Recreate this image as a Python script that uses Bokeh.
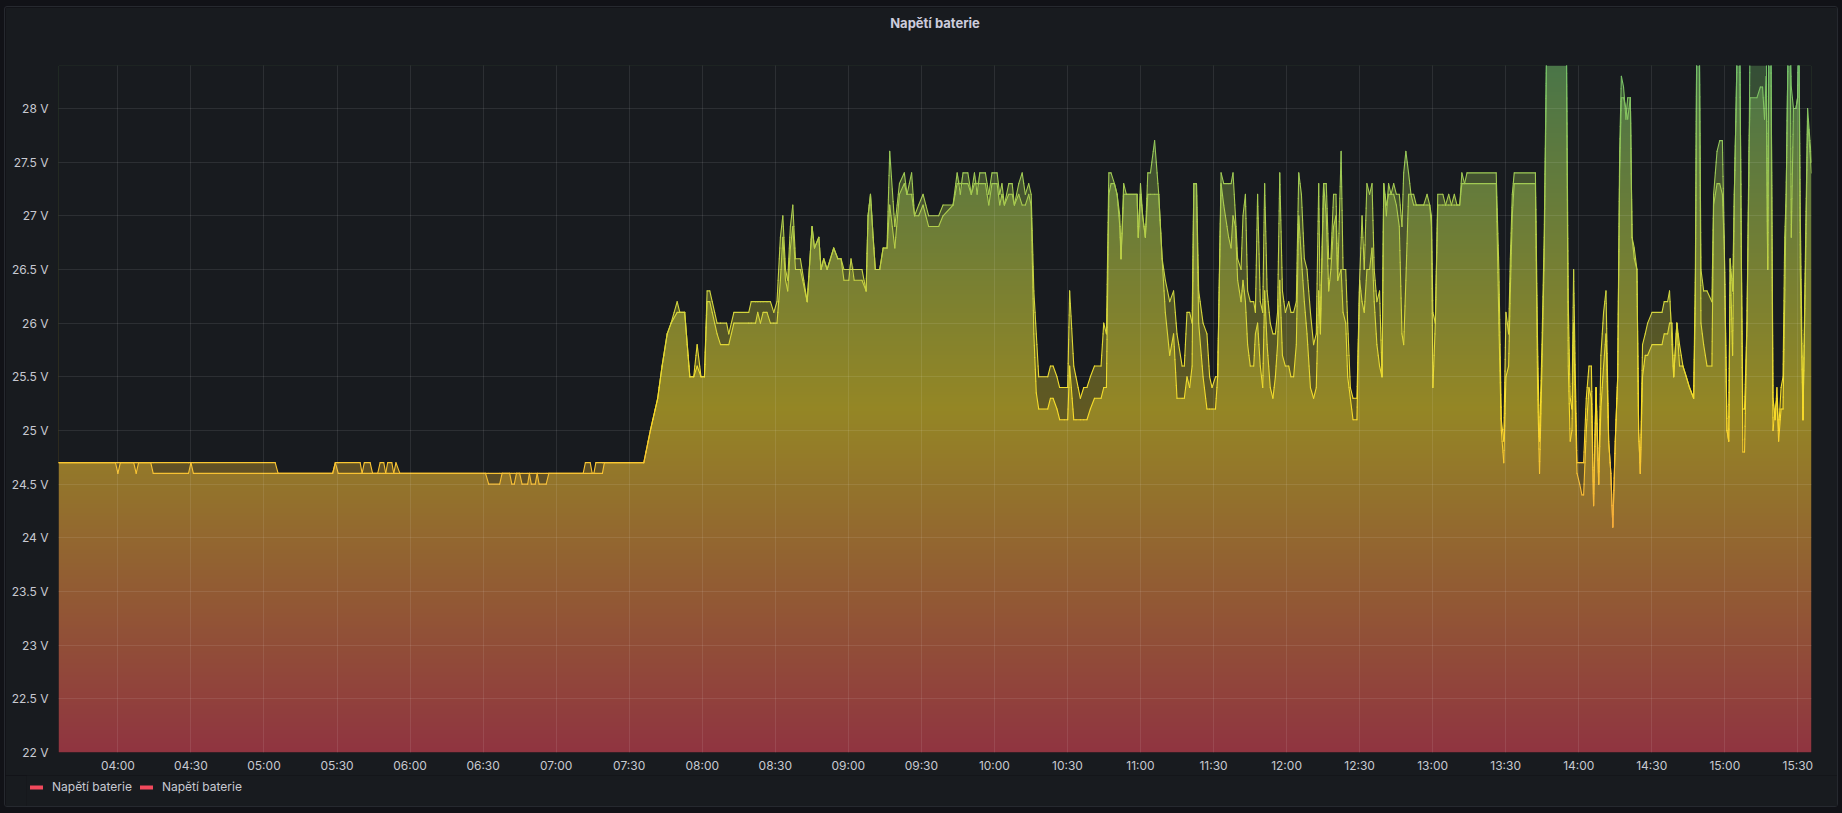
import math
import numpy as np
from bokeh.plotting import figure
from bokeh.layouts import column
from bokeh.models import Range1d, FixedTicker, Legend, LegendItem, Title
from bokeh.embed import file_html
from bokeh.resources import INLINE

# ---------------- data (minutes since midnight, volts) ----------------
TITLE = "Napětí baterie"
SERIES_NAMES = ["Napětí baterie", "Napětí baterie"]

T = [
    215.6, 239.0, 240.0, 241.0, 246.5, 247.5, 248.5, 253.5,
    254.5, 269.0, 270.0, 271.0, 304.6, 305.8, 328.2, 329.3,
    330.5, 339.5, 340.3, 341.2, 343.6, 344.6, 346.7, 347.7,
    349.2, 350.0, 350.8, 352.5, 353.3, 354.2, 355.8, 391.0,
    392.3, 396.8, 397.8, 400.9, 401.8, 402.8, 403.7, 405.0,
    406.0, 408.3, 409.0, 409.8, 411.4, 412.2, 413.0, 415.9,
    417.0, 431.1, 432.0, 434.0, 434.8, 435.5, 436.3, 439.0,
    439.8, 456.0, 458.7, 461.7, 463.5, 465.6, 467.2, 469.7,
    470.8, 472.8, 474.9, 476.5, 477.9, 479.5, 480.9, 482.0,
    483.1, 486.1, 487.5, 490.0, 490.9, 493.0, 499.1, 500.1,
    501.9, 502.8, 503.9, 505.0, 506.6, 508.0, 509.4, 510.7,
    512.1, 513.1, 514.2, 515.1, 516.2, 517.2, 518.3, 520.3,
    523.1, 525.1, 526.1, 527.9, 528.8, 529.9, 531.3, 534.0,
    535.7, 537.0, 538.2, 540.2, 541.1, 542.4, 545.6, 547.3,
    548.1, 549.1, 550.2, 551.1, 552.9, 554.3, 555.9, 557.0,
    559.1, 561.0, 563.0, 564.1, 566.0, 567.2, 568.9, 570.7,
    573.0, 577.1, 578.9, 583.0, 584.7, 586.0, 587.1, 589.1,
    590.5, 591.8, 592.9, 594.0, 596.3, 597.7, 599.0, 601.1,
    602.2, 603.1, 604.1, 605.9, 607.3, 608.2, 610.0, 611.4,
    612.7, 614.1, 615.1, 616.2, 617.2, 618.2, 621.9, 623.0,
    624.1, 625.7, 626.8, 628.7, 630.1, 630.9, 632.6, 633.5,
    635.3, 636.7, 638.0, 639.4, 641.1, 643.8, 644.9, 646.0,
    647.0, 647.9, 649.3, 650.4, 651.5, 652.0, 653.1, 654.2,
    658.6, 659.1, 660.0, 660.9, 662.0, 663.0, 664.1, 665.8,
    667.5, 668.9, 670.2, 672.0, 673.6, 675.0, 677.1, 678.0,
    679.1, 680.2, 681.2, 681.9, 683.0, 683.9, 685.7, 687.3,
    688.4, 689.4, 690.8, 691.7, 693.1, 694.2, 696.2, 697.2,
    698.0, 699.0, 699.9, 701.3, 702.1, 703.1, 704.0, 705.1,
    706.5, 707.2, 708.1, 709.2, 710.2, 711.0, 712.0, 713.3,
    714.4, 715.4, 716.3, 717.2, 718.3, 719.5, 720.9, 721.8,
    722.9, 724.0, 725.0, 726.1, 727.3, 728.4, 729.8, 731.1,
    732.2, 733.2, 733.9, 735.2, 736.3, 737.3, 738.2, 739.3,
    740.3, 741.0, 742.4, 743.2, 744.3, 745.1, 746.2, 747.3,
    748.9, 750.0, 751.0, 751.9, 753.0, 754.1, 755.1, 756.0,
    757.1, 758.2, 759.2, 759.9, 761.0, 761.9, 762.9, 764.0,
    765.1, 766.3, 767.4, 768.1, 769.0, 770.1, 771.1, 772.2,
    773.3, 776.3, 777.7, 778.8, 779.5, 780.1, 781.1, 782.1,
    784.2, 785.3, 786.6, 787.7, 788.9, 790.0, 791.1, 792.0,
    793.1, 794.1, 806.1, 807.2, 808.2, 809.2, 810.1, 811.2,
    811.9, 812.7, 813.5, 822.2, 823.1, 823.9, 824.9, 825.8,
    826.9, 834.9, 835.7, 836.5, 837.2, 837.9, 838.6, 839.3,
    840.4, 841.3, 842.0, 843.1, 844.2, 845.2, 846.1, 847.1,
    848.2, 849.1, 850.2, 851.2, 852.3, 853.2, 854.0, 855.0,
    856.0, 856.8, 857.5, 858.4, 859.4, 860.1, 861.2, 861.9,
    862.8, 863.9, 864.6, 865.3, 866.2, 867.3, 868.3, 870.1,
    874.2, 875.1, 876.5, 877.3, 878.3, 879.0, 880.3, 881.4,
    882.8, 884.2, 885.5, 887.2, 887.9, 888.5, 889.5, 890.2,
    891.3, 892.7, 894.7, 895.4, 896.8, 897.9, 899.0, 899.8,
    900.9, 901.6, 902.2, 903.2, 903.9, 904.7, 905.2, 906.1,
    906.8, 907.4, 908.1, 909.1, 909.9, 910.4, 913.2, 914.6,
    915.5, 916.3, 917.0, 917.6, 918.1, 918.9, 919.8, 920.7,
    921.4, 922.1, 923.1, 923.9, 924.6, 925.2, 926.1, 926.8,
    927.3, 928.2, 929.2, 929.9, 930.4, 931.0, 932.1, 933.2,
    934.0, 935.6,
]

A = [
    24.7, 24.7, 24.7, 24.7, 24.7, 24.7, 24.7, 24.7,
    24.7, 24.7, 24.7, 24.7, 24.7, 24.6, 24.6, 24.7,
    24.7, 24.7, 24.6, 24.7, 24.7, 24.6, 24.6, 24.7,
    24.7, 24.6, 24.7, 24.7, 24.6, 24.7, 24.6, 24.6,
    24.6, 24.6, 24.6, 24.6, 24.6, 24.6, 24.6, 24.6,
    24.6, 24.6, 24.6, 24.6, 24.6, 24.6, 24.6, 24.6,
    24.6, 24.6, 24.7, 24.7, 24.6, 24.6, 24.7, 24.7,
    24.7, 24.7, 25.0, 25.3, 25.6, 25.9, 26.0, 26.2,
    26.1, 26.1, 25.5, 25.5, 25.8, 25.5, 25.5, 26.3,
    26.3, 26.0, 26.0, 26.0, 25.9, 26.1, 26.1, 26.2,
    26.2, 26.2, 26.2, 26.2, 26.2, 26.2, 26.1, 26.2,
    26.8, 27.0, 26.5, 26.4, 26.9, 27.1, 26.6, 26.6,
    26.2, 26.9, 26.7, 26.8, 26.5, 26.6, 26.5, 26.7,
    26.6, 26.6, 26.5, 26.5, 26.5, 26.5, 26.5, 26.3,
    27.0, 27.2, 26.8, 26.5, 26.5, 26.7, 26.7, 27.6,
    26.9, 27.3, 27.4, 27.2, 27.4, 27.0, 27.1, 27.2,
    27.0, 27.0, 27.1, 27.1, 27.4, 27.2, 27.4, 27.4,
    27.2, 27.4, 27.2, 27.4, 27.4, 27.2, 27.4, 27.4,
    27.2, 27.3, 27.1, 27.3, 27.3, 27.1, 27.3, 27.4,
    27.2, 27.3, 27.2, 26.3, 25.9, 25.5, 25.5, 25.6,
    25.6, 25.5, 25.4, 25.4, 25.4, 26.3, 25.6, 25.5,
    25.3, 25.4, 25.4, 25.5, 25.6, 25.6, 26.0, 25.9,
    27.4, 27.4, 27.3, 27.2, 27.0, 26.6, 27.3, 27.2,
    27.2, 26.8, 27.3, 27.0, 26.8, 27.4, 27.4, 27.7,
    27.2, 26.6, 26.4, 26.2, 26.3, 25.9, 25.6, 25.6,
    26.1, 26.1, 26.0, 27.3, 27.3, 26.3, 26.0, 25.9,
    25.5, 25.4, 25.5, 25.5, 27.4, 27.3, 27.3, 27.3,
    27.4, 27.0, 26.6, 26.5, 27.0, 27.2, 26.3, 26.2,
    26.2, 26.1, 27.2, 26.2, 26.1, 27.3, 26.3, 26.0,
    25.9, 25.9, 26.1, 27.4, 26.3, 26.1, 26.2, 26.1,
    26.1, 26.2, 27.4, 27.2, 26.6, 26.5, 26.1, 25.8,
    25.9, 27.3, 26.0, 27.3, 27.3, 26.6, 26.6, 27.2,
    27.2, 26.4, 27.6, 26.5, 26.5, 26.0, 25.4, 25.3,
    25.3, 26.4, 27.0, 26.5, 27.3, 27.2, 27.3, 26.5,
    26.2, 26.3, 25.5, 27.3, 27.0, 27.3, 27.2, 27.3,
    27.2, 27.2, 26.9, 27.4, 27.6, 27.4, 27.2, 27.2,
    27.1, 27.1, 27.2, 27.1, 27.0, 26.1, 26.0, 27.2,
    27.2, 27.1, 27.2, 27.1, 27.2, 27.1, 27.1, 27.4,
    27.3, 27.4, 27.4, 26.5, 25.1, 24.9, 26.1, 25.9,
    26.6, 27.2, 27.4, 27.4, 25.8, 24.9, 25.8, 26.8,
    28.8, 28.8, 26.2, 25.3, 25.2, 26.5, 25.5, 24.7,
    24.7, 24.7, 24.7, 25.3, 25.6, 25.6, 24.3, 25.4,
    24.5, 25.7, 26.1, 26.3, 24.9, 24.6, 24.1, 24.9,
    25.5, 27.6, 28.3, 28.2, 27.9, 28.1, 28.1, 26.8,
    26.7, 26.5, 25.0, 24.6, 25.8, 25.9, 26.0, 26.1,
    26.1, 26.2, 26.2, 26.3, 25.8, 25.5, 26.0, 25.8,
    25.6, 25.5, 25.4, 25.3, 26.5, 28.8, 28.8, 26.5,
    26.3, 26.3, 26.2, 27.2, 27.6, 27.7, 27.7, 26.7,
    25.0, 24.9, 26.6, 26.3, 27.2, 28.1, 28.8, 28.8,
    26.6, 25.2, 25.2, 26.0, 27.4, 28.8, 28.8, 28.8,
    28.8, 28.6, 28.8, 26.5, 28.8, 28.8, 25.3, 25.1,
    25.4, 25.0, 25.4, 25.5, 26.8, 27.2, 28.8, 28.8,
    28.2, 28.0, 28.0, 28.1, 28.8, 27.0, 25.1, 26.8,
    28.0, 27.5,
]

B = [
    24.7, 24.7, 24.6, 24.7, 24.7, 24.6, 24.7, 24.7,
    24.6, 24.6, 24.7, 24.6, 24.6, 24.6, 24.6, 24.7,
    24.6, 24.6, 24.6, 24.6, 24.6, 24.6, 24.6, 24.6,
    24.6, 24.6, 24.6, 24.6, 24.6, 24.6, 24.6, 24.6,
    24.5, 24.5, 24.6, 24.6, 24.5, 24.5, 24.6, 24.6,
    24.5, 24.5, 24.6, 24.5, 24.5, 24.6, 24.5, 24.5,
    24.6, 24.6, 24.6, 24.6, 24.6, 24.6, 24.6, 24.6,
    24.7, 24.7, 25.0, 25.3, 25.6, 25.9, 26.0, 26.1,
    26.1, 26.1, 25.5, 25.5, 25.6, 25.5, 25.5, 26.2,
    26.2, 25.9, 25.8, 25.8, 25.8, 26.0, 26.0, 26.0,
    26.0, 26.1, 26.0, 26.1, 26.1, 26.0, 26.0, 26.0,
    26.4, 26.8, 26.4, 26.3, 26.7, 26.9, 26.5, 26.5,
    26.2, 26.9, 26.7, 26.8, 26.5, 26.6, 26.5, 26.7,
    26.6, 26.6, 26.4, 26.4, 26.6, 26.4, 26.4, 26.3,
    27.0, 27.2, 26.8, 26.5, 26.5, 26.7, 26.7, 27.1,
    26.7, 27.2, 27.3, 27.2, 27.2, 27.0, 27.0, 27.1,
    26.9, 26.9, 27.0, 27.1, 27.3, 27.3, 27.3, 27.3,
    27.2, 27.3, 27.3, 27.3, 27.3, 27.1, 27.3, 27.3,
    27.1, 27.2, 27.1, 27.2, 27.2, 27.1, 27.2, 27.1,
    27.1, 27.2, 27.1, 25.9, 25.35, 25.2, 25.2, 25.3,
    25.3, 25.2, 25.1, 25.1, 25.1, 25.6, 25.1, 25.1,
    25.1, 25.1, 25.1, 25.2, 25.3, 25.3, 25.4, 25.4,
    27.2, 27.3, 27.3, 27.2, 26.9, 26.6, 27.2, 27.2,
    27.2, 26.8, 27.2, 27.0, 26.8, 27.2, 27.2, 27.2,
    27.2, 26.6, 26.1, 25.7, 25.9, 25.3, 25.3, 25.3,
    25.5, 25.4, 25.6, 27.3, 27.3, 26.0, 25.5, 25.2,
    25.2, 25.2, 25.2, 25.5, 27.3, 27.1, 26.8, 26.7,
    27.0, 26.9, 26.4, 26.2, 26.4, 26.2, 25.8, 25.6,
    25.6, 25.9, 26.0, 25.6, 25.4, 26.3, 25.8, 25.4,
    25.3, 25.5, 25.8, 26.4, 25.7, 25.6, 25.6, 25.5,
    25.5, 25.8, 27.0, 26.6, 26.2, 25.9, 25.4, 25.3,
    25.4, 26.3, 25.9, 27.3, 27.0, 26.3, 26.5, 26.9,
    27.0, 26.4, 26.5, 26.1, 26.0, 25.5, 25.3, 25.1,
    25.1, 26.4, 26.2, 26.1, 26.5, 26.5, 26.7, 26.2,
    25.8, 25.6, 25.5, 27.3, 27.1, 27.2, 27.2, 27.2,
    27.1, 26.9, 25.9, 25.8, 26.4, 27.2, 27.2, 27.1,
    27.1, 27.1, 27.1, 27.1, 26.9, 25.4, 26.0, 27.1,
    27.1, 27.1, 27.1, 27.1, 27.1, 27.1, 27.1, 27.3,
    27.3, 27.3, 27.3, 26.0, 25.0, 24.7, 25.5, 25.6,
    26.3, 27.0, 27.3, 27.3, 25.4, 24.6, 25.6, 26.6,
    28.7, 28.7, 25.6, 24.9, 25.0, 26.0, 25.2, 24.6,
    24.5, 24.4, 24.4, 25.0, 25.4, 25.3, 24.3, 25.4,
    24.5, 25.2, 25.6, 25.9, 24.9, 24.6, 24.1, 24.9,
    25.5, 27.4, 28.1, 28.1, 28.0, 27.9, 28.1, 26.8,
    26.6, 26.5, 25.0, 24.6, 25.5, 25.7, 25.7, 25.8,
    25.8, 25.9, 25.9, 26.0, 26.0, 25.5, 26.0, 25.6,
    25.6, 25.5, 25.4, 25.3, 26.2, 28.8, 28.8, 26.0,
    25.8, 25.6, 25.6, 27.1, 27.3, 27.3, 27.2, 26.7,
    25.0, 24.9, 26.6, 25.7, 27.2, 28.1, 28.8, 28.8,
    26.6, 24.8, 24.8, 26.0, 27.6, 28.1, 28.1, 28.2,
    28.2, 27.9, 28.3, 26.5, 28.8, 28.8, 25.0, 25.2,
    25.3, 24.9, 25.2, 25.2, 26.2, 27.2, 28.8, 28.8,
    26.8, 28.0, 28.0, 28.1, 28.8, 26.5, 25.1, 26.6,
    27.9, 27.4,
]

X_TICKS = [240, 270, 300, 330, 360, 390, 420, 450, 480, 510, 540, 570,
           600, 630, 660, 690, 720, 750, 780, 810, 840, 870, 900, 930]
X_TICK_LABELS = ["04:00", "04:30", "05:00", "05:30", "06:00", "06:30",
                 "07:00", "07:30", "08:00", "08:30", "09:00", "09:30",
                 "10:00", "10:30", "11:00", "11:30", "12:00", "12:30",
                 "13:00", "13:30", "14:00", "14:30", "15:00", "15:30"]
Y_TICKS = [22.0, 22.5, 23.0, 23.5, 24.0, 24.5, 25.0, 25.5, 26.0, 26.5,
           27.0, 27.5, 28.0]
Y_TICK_LABELS = ["22 V", "22.5 V", "23 V", "23.5 V", "24 V", "24.5 V",
                 "25 V", "25.5 V", "26 V", "26.5 V", "27 V", "27.5 V", "28 V"]

X_MIN, X_MAX = 215.6, 935.6
Y_MIN, Y_MAX = 22.0, 28.4

# ---------------- style ----------------
BG = "#181b1f"
PAGE_BG = "#111217"
TEXT = "#c7c9d1"
RED, YELLOW, GREEN = "#F2495C", "#FADE2A", "#73BF69"
FILL_ALPHA = 0.55


def hex2rgb(h):
    return tuple(int(h[i:i + 2], 16) for i in (1, 3, 5))


def scheme(v):
    t = min(max((v - Y_MIN) / (Y_MAX - Y_MIN), 0.0), 1.0)
    if t < 0.5:
        c0, c1, f = RED, YELLOW, t / 0.5
    else:
        c0, c1, f = YELLOW, GREEN, (t - 0.5) / 0.5
    a, b = hex2rgb(c0), hex2rgb(c1)
    return tuple(a[i] + (b[i] - a[i]) * f for i in range(3))


def blend(rgb, alpha):
    bg = hex2rgb(BG)
    return tuple(bg[i] * (1 - alpha) + rgb[i] * alpha for i in range(3))


def to_hex(rgb):
    return "#%02x%02x%02x" % tuple(int(round(c)) for c in rgb)


p = figure(frame_width=1753, frame_height=687,
           x_range=Range1d(X_MIN, X_MAX), y_range=Range1d(Y_MIN, Y_MAX),
           output_backend="svg", toolbar_location=None,
           min_border_left=53, min_border_right=26,
           min_border_top=58, min_border_bottom=22,
           background_fill_color=BG, border_fill_color=BG,
           outline_line_color=None)
p.frame_align = False

# spacer between frame and title (pushes the title to the top of the panel)
p.add_layout(Title(text=" ", text_font_size="12px", standoff=16,
                   text_color=BG), "above")

# title
p.title.text = TITLE
p.title.align = "center"
p.title.offset = -10
p.title.text_color = "#ccccdc"
p.title.text_font = "Inter"
p.title.text_font_size = "13px"
p.title.text_font_style = "bold"
p.title.standoff = 6

# gradient fill (colour scheme by value)
H = 700
img = np.empty((H, 1), dtype=np.uint32)
view = img.view(dtype=np.uint8).reshape((H, 1, 4))
for i in range(H):
    v = Y_MIN + (i + 0.5) * (Y_MAX - Y_MIN) / H
    r, g, b = blend(scheme(v), FILL_ALPHA)
    view[i, 0, 0] = int(round(r))
    view[i, 0, 1] = int(round(g))
    view[i, 0, 2] = int(round(b))
    view[i, 0, 3] = 255
p.image_rgba(image=[img], x=X_MIN, y=Y_MIN, dw=X_MAX - X_MIN, dh=Y_MAX - Y_MIN)

t_arr = np.array(T)
a_arr = np.array(A)
b_arr = np.array(B)
hi = np.maximum(a_arr, b_arr)
lo = np.minimum(a_arr, b_arr)

# mask above the upper series
p.varea(x=t_arr, y1=hi, y2=np.full_like(hi, Y_MAX + 2.0), fill_color=BG, fill_alpha=1.0)
# region covered by only one series' fill is darker
p.varea(x=t_arr, y1=lo, y2=hi, fill_color=BG, fill_alpha=0.42)


def seg_data(t, v):
    x0, y0, x1, y1, col = [], [], [], [], []
    for i in range(len(t) - 1):
        n = max(1, int(math.ceil(abs(v[i + 1] - v[i]) / 0.12)))
        for k in range(n):
            fa, fb = k / n, (k + 1) / n
            xa = t[i] + (t[i + 1] - t[i]) * fa
            xb = t[i] + (t[i + 1] - t[i]) * fb
            ya = v[i] + (v[i + 1] - v[i]) * fa
            yb = v[i] + (v[i + 1] - v[i]) * fb
            x0.append(xa); y0.append(ya); x1.append(xb); y1.append(yb)
            col.append(to_hex(scheme((ya + yb) / 2)))
    return dict(x0=x0, y0=y0, x1=x1, y1=y1, c=col)


for series in (A, B):
    d = seg_data(T, series)
    p.segment(x0=d["x0"], y0=d["y0"], x1=d["x1"], y1=d["y1"],
              line_color=d["c"], line_width=1.1, line_cap="round")

# grid on top of the fills
for g in (p.xgrid, p.ygrid):
    g.level = "guide"
    g.grid_line_color = "#ffffff"
    g.grid_line_alpha = 0.09
p.xgrid.ticker = FixedTicker(ticks=X_TICKS)
p.ygrid.ticker = FixedTicker(ticks=Y_TICKS)

# axes
p.xaxis.ticker = FixedTicker(ticks=X_TICKS)
p.xaxis.major_label_overrides = {t: l for t, l in zip(X_TICKS, X_TICK_LABELS)}
p.yaxis.ticker = FixedTicker(ticks=Y_TICKS)
p.yaxis.major_label_overrides = {t: l for t, l in zip(Y_TICKS, Y_TICK_LABELS)}
for ax in (p.xaxis, p.yaxis):
    ax.axis_line_color = None
    ax.major_tick_line_color = None
    ax.minor_tick_line_color = None
    ax.major_tick_out = 0
    ax.major_tick_in = 0
    ax.minor_tick_out = 0
    ax.minor_tick_in = 0
    ax.major_label_text_color = TEXT
    ax.major_label_text_font = "Inter"
    ax.major_label_text_font_size = "12px"
p.xaxis.major_label_standoff = 5
p.yaxis.major_label_standoff = 10

# legend strip (a small figure under the chart)
leg = figure(width=1832, height=31, x_range=Range1d(0, 1), y_range=Range1d(0, 1),
             output_backend="svg", toolbar_location=None,
             x_axis_type=None, y_axis_type=None,
             min_border_left=21, min_border_right=0,
             min_border_top=0, min_border_bottom=0,
             background_fill_color=BG, border_fill_color=BG,
             outline_line_color=None)
leg.frame_align = False
# legend-only renderers, kept outside the visible range of the strip
r1 = leg.line(x=[2, 3], y=[2, 3], line_color=RED, line_width=4, line_cap="round")
r2 = leg.line(x=[2, 3], y=[2, 3], line_color=RED, line_width=4, line_cap="round")
legend = Legend(items=[LegendItem(label=SERIES_NAMES[0], renderers=[r1]),
                       LegendItem(label=SERIES_NAMES[1], renderers=[r2])],
                location="top_left", orientation="horizontal")
legend.label_text_font = "Inter"
legend.label_text_font_size = "12px"
legend.label_text_color = TEXT
legend.glyph_width = 13
legend.glyph_height = 14
legend.label_height = 14
legend.label_standoff = 9
legend.spacing = 8
legend.padding = 0
legend.margin = 4
legend.background_fill_alpha = 0
legend.border_line_alpha = 0
leg.add_layout(legend)

layout = column(p, leg, spacing=0)
layout.styles = {"outline": "1px solid #26292f", "border-radius": "2px"}

html = file_html(layout, INLINE, title=TITLE)
html = html.replace(
    "</head>",
    "<style>body{background:%s;padding:7px 5px !important;}</style></head>" % PAGE_BG, 1)
open("out.html", "w").write(html)
